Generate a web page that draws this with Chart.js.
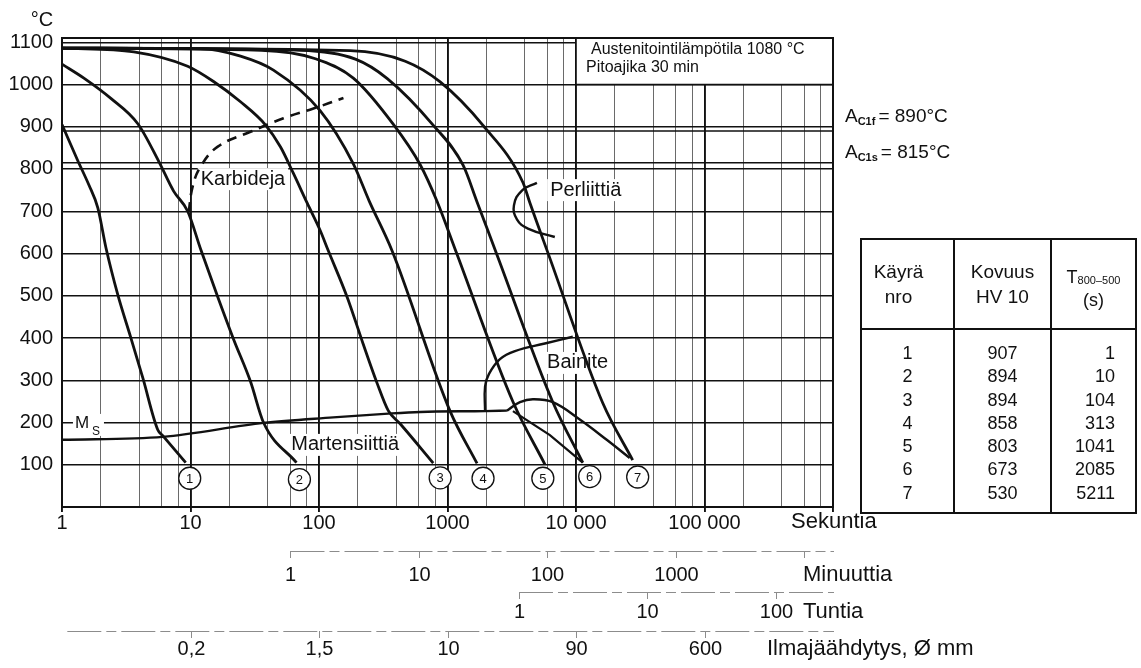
<!DOCTYPE html>
<html>
<head>
<meta charset="utf-8">
<script src="https://cdn.jsdelivr.net/npm/chart.js@4.4.1/dist/chart.umd.min.js"></script>
<style>
  html, body { margin: 0; padding: 0; background: #fff; }
  #wrap { position: relative; width: 1141px; height: 668px; overflow: hidden; }
  #cct { position: absolute; left: 0; top: 0; }
  table.hv {
    position: absolute; left: 860px; top: 238px; width: 275px;
    border-collapse: collapse; table-layout: fixed;
    font-family: "Liberation Sans", Arial, Helvetica, sans-serif; color: #111;
  }
  table.hv td { border: 2px solid #111; padding: 0; }
  table.hv tr.head td { height: 78px; font-size: 19px; line-height: 25px; vertical-align: middle; text-align: center; }
  table.hv tr.head td.c1 { padding-right: 18px; }
  table.hv tr.head td.c3 { font-size: 18px; line-height: 21px; padding-top: 10px; }
  table.hv sub { font-size: 11px; vertical-align: baseline; position: relative; top: 1px; }
  table.hv tr.body td { height: 170px; font-size: 18px; line-height: 23.3px; vertical-align: top; padding-top: 12px; text-align: center; }
  table.hv tr.body td.c3 { text-align: right; padding-right: 20px; }
</style>
</head>
<body>
<div id="wrap">
  <canvas id="cct" width="1141" height="668"></canvas>
  <table class="hv" id="hvTable">
    <colgroup><col style="width:93px"><col style="width:97px"><col style="width:85px"></colgroup>
    <tr class="head">
      <td class="c1">Käyrä<br>nro</td>
      <td class="c2">Kovuus<br>HV 10</td>
      <td class="c3">T<sub>800–500</sub><br>(s)</td>
    </tr>
    <tr class="body"><td class="c1" id="colNo"></td><td class="c2" id="colHv"></td><td class="c3" id="colT"></td></tr>
  </table>
</div>
<script>
const FONT = '"Liberation Sans", Arial, Helvetica, sans-serif';

// time axis (s) and temperature axis (°C)
const secTicks = [1, 10, 100, 1000, 10000, 100000];
const secLabels = ['1', '10', '100', '1000', '10 000', '100 000'];
const minTicks = [1, 10, 100, 1000, 10000];
const minLabels = ['1', '10', '100', '1000', ''];
const hourTicks = [1, 10, 100];
const hourLabels = ['1', '10', '100'];
const airTicksSec = [10, 100, 1000, 10000, 100000];
const airLabels = ['0,2', '1,5', '10', '90', '600'];
const tempTicks = [0, 100, 200, 300, 400, 500, 600, 700, 800, 900, 1000, 1100];

// cooling curves 1..7
const curve1Time = [1, 1.33, 1.62, 1.90, 2.20, 2.72, 3.43, 4.25, 5.56, 6.08, 9.18];
const curve1Temp = [905, 819, 762, 708, 613, 502, 401, 306, 183, 169, 105];
const curve2Time = [1, 1.48, 2.40, 3.89, 5.66, 7.41, 9.51, 12.0, 16.3, 21.7, 29.3, 37.0, 66.8];
const curve2Temp = [1048, 1015, 967, 907, 818, 747, 700, 610, 497, 396, 297, 200, 105];
const curve3Time = [1, 3.62, 9.5, 15.1, 24.5, 38.4, 50.2, 63.1, 81, 102, 118, 166, 220, 284, 346, 428, 774];
const curve3Temp = [1086, 1077, 1043, 1007, 959, 904, 852, 790, 719, 655, 607, 496, 387, 292, 228, 197, 104];
const curve4Time = [1, 12.0, 24.5, 44.2, 102, 185, 246, 371, 1047, 1698];
const curve4Temp = [1086, 1085, 1067, 1034, 938, 812, 724, 606, 227, 103];
const curve5Time = [1, 35.7, 93.8, 185, 378, 613, 830, 1166, 3230, 5725];
const curve5Temp = [1086, 1081, 1061, 1015, 906, 810, 723, 604, 249, 101];
const curve6Time = [1, 71.7, 192, 340, 773, 1322, 1698, 2385, 6605, 11290];
const curve6Temp = [1086, 1081, 1060, 1014, 904, 809, 722, 603, 248, 105];
const curve7Time = [1, 175, 469, 877, 1890, 3865, 4375, 6040, 16150, 27600];
const curve7Temp = [1086, 1080, 1055, 1006, 903, 768, 720, 602, 246, 111];

// transformation lines
const msTime = [1, 6.1, 37, 129, 346, 613, 1960, 2900];
const msTemp = [159, 166, 199, 212, 221, 225, 227, 228];
const bainiteTime = [1960, 1960, 2104, 2560, 3350, 5725, 9440];
const bainiteTemp = [227, 285, 315, 350, 369, 387, 403];
const bainiteHumpTime = [2900, 3664, 4620, 6605, 10700, 17340, 26170];
const bainiteHumpTemp = [228, 248, 255, 248, 207, 159, 116];
const bainiteLowTime = [3230, 6265, 11290];
const bainiteLowTemp = [227, 170, 105];
const carbideTime = [9.68, 10.4, 12.0, 16.3, 29.3, 52.9, 90.5, 155];
const carbideTemp = [698, 759, 806, 853, 888, 920, 943, 968];
const perliteTime = [4965, 3795, 3290, 3470, 4225, 6840];
const perliteTemp = [767, 749, 714, 681, 659, 639];

const acValues = [890, 815];
const acNames = ['C1f', 'C1s'];
const acLabelTemp = [923, 839];

// curve number markers
const markerNo = ['1', '2', '3', '4', '5', '6', '7'];
const markerTime = [9.86, 70.4, 877, 1890, 5520, 12790, 30200];
const markerTemp = [68, 65, 69, 68, 68, 72, 71];

// table
const curveNo = [1, 2, 3, 4, 5, 6, 7];
const hardness = [907, 894, 894, 858, 803, 673, 530];
const t800500 = [1, 10, 104, 313, 1041, 2085, 5211];

const regionLabels = [
  { text: 'Karbideja', t: 25.6, T: 776 },
  { text: 'Perliittiä', t: 11900, T: 750 },
  { text: 'Bainite', t: 10300, T: 341 },
  { text: 'Martensiittiä', t: 160, T: 147 }
];

document.getElementById('colNo').innerHTML = curveNo.join('<br>');
document.getElementById('colHv').innerHTML = hardness.join('<br>');
document.getElementById('colT').innerHTML = t800500.join('<br>');

function pts(ts, Ts) {
  return ts.map((t, i) => ({ x: t, y: Ts[i] }));
}

// vertical grid: 1, 2, 4, 6, 8 per decade
const gridTimes = [];
secTicks.forEach(d => { gridTimes.push(d, 2 * d, 4 * d, 6 * d, 8 * d); });
gridTimes.push(1000000);

function isMajor(v) {
  return secTicks.includes(v) || v === 1000000;
}

function curveSet(ts, Ts) {
  return { data: pts(ts, Ts), borderColor: '#111', borderWidth: 2.8, pointRadius: 0, cubicInterpolationMode: 'monotone', fill: false };
}

function drawSubAxis(ctx, x, a, startSec, tickSecs, labels, lineY, labelY, name, nameX) {
  ctx.save();
  ctx.strokeStyle = '#8c8c8c';
  ctx.lineWidth = 1;
  ctx.setLineDash([34, 5, 10, 5]);
  ctx.beginPath();
  ctx.moveTo(x.getPixelForValue(startSec), lineY + 0.5);
  ctx.lineTo(a.right + 1, lineY + 0.5);
  ctx.stroke();
  ctx.setLineDash([]);
  ctx.fillStyle = '#111';
  ctx.font = '20px ' + FONT;
  ctx.textAlign = 'center';
  ctx.textBaseline = 'middle';
  tickSecs.forEach((s, i) => {
    const px = Math.round(x.getPixelForValue(s)) + 0.5;
    ctx.beginPath();
    ctx.moveTo(px, lineY);
    ctx.lineTo(px, lineY + 7);
    ctx.stroke();
    if (labels[i]) ctx.fillText(labels[i], px, labelY);
  });
  if (name) {
    ctx.font = '22px ' + FONT;
    ctx.textAlign = 'left';
    ctx.fillText(name, nameX, labelY);
  }
  ctx.restore();
}

const cctPlugin = {
  id: 'cct',
  beforeDraw(chart) {
    const ctx = chart.ctx;
    ctx.save();
    ctx.fillStyle = '#fff';
    ctx.fillRect(0, 0, chart.width, chart.height);
    ctx.restore();
  },
  beforeDatasetsDraw(chart) {
    const { ctx, chartArea: a, scales: { x, y } } = chart;
    ctx.save();
    // austenitizing info box
    const bx = x.getPixelForValue(10000), by = y.getPixelForValue(1000);
    ctx.fillStyle = '#fff';
    ctx.fillRect(bx, a.top, a.right - bx, by - a.top);
    ctx.strokeStyle = '#111';
    ctx.lineWidth = 1.6;
    ctx.beginPath();
    ctx.moveTo(bx, a.top);
    ctx.lineTo(bx, by);
    ctx.lineTo(a.right, by);
    ctx.stroke();
    ctx.fillStyle = '#111';
    ctx.font = '16px ' + FONT;
    ctx.textAlign = 'left';
    ctx.textBaseline = 'middle';
    ctx.fillText('Austenitointilämpötila 1080 °C', bx + 15, a.top + 12);
    ctx.fillText('Pitoajika 30 min', bx + 10, a.top + 30);

    // region labels
    ctx.font = '20px ' + FONT;
    ctx.textAlign = 'center';
    regionLabels.forEach(l => {
      const px = x.getPixelForValue(l.t), py = y.getPixelForValue(l.T);
      const w = ctx.measureText(l.text).width;
      ctx.fillStyle = '#fff';
      ctx.fillRect(px - w / 2 - 3, py - 11, w + 6, 22);
      ctx.fillStyle = '#111';
      ctx.fillText(l.text, px, py);
    });

    // Ms label
    const mx = x.getPixelForValue(1.43), my = y.getPixelForValue(199);
    ctx.fillStyle = '#fff';
    ctx.fillRect(mx - 9, my - 9, 31, 22);
    ctx.fillStyle = '#111';
    ctx.font = '17px ' + FONT;
    ctx.fillText('M', mx, my);
    ctx.font = '12px ' + FONT;
    ctx.fillText('S', mx + 14, my + 9);
    ctx.restore();
  },
  afterDatasetsDraw(chart) {
    const { ctx, chartArea: a } = chart;
    ctx.save();
    const meta = chart.getDatasetMeta(0);
    ctx.fillStyle = '#111';
    ctx.font = '13px ' + FONT;
    ctx.textAlign = 'center';
    ctx.textBaseline = 'middle';
    meta.data.forEach((p, i) => ctx.fillText(markerNo[i], p.x, p.y + 1));
    // plot frame
    ctx.strokeStyle = '#111';
    ctx.lineWidth = 2;
    ctx.strokeRect(a.left, a.top, a.right - a.left, a.bottom - a.top);
    ctx.restore();
  },
  afterDraw(chart) {
    const { ctx, chartArea: a, scales: { x, y } } = chart;
    ctx.save();
    ctx.fillStyle = '#111';
    ctx.textBaseline = 'middle';
    ctx.textAlign = 'center';
    ctx.font = '20px ' + FONT;
    ctx.fillText('°C', 42, 20);

    // Ac temperatures
    acValues.forEach((v, i) => {
      let px = a.right + 12;
      const py = y.getPixelForValue(acLabelTemp[i]);
      ctx.textAlign = 'left';
      ctx.font = '19px ' + FONT;
      ctx.fillText('A', px, py);
      px += ctx.measureText('A').width;
      ctx.font = 'bold 11px ' + FONT;
      ctx.fillText(acNames[i], px, py + 5);
      px += ctx.measureText(acNames[i]).width + 3;
      ctx.font = '19px ' + FONT;
      ctx.fillText('= ' + v + '°C', px, py);
    });
    ctx.restore();

    // time scales below
    drawSubAxis(ctx, x, a, 1, [], [], -100, 522, 'Sekuntia', a.right - 42);
    drawSubAxis(ctx, x, a, 60, minTicks.map(m => m * 60), minLabels, 551, 575, 'Minuuttia', a.right - 30);
    drawSubAxis(ctx, x, a, 3600, hourTicks.map(h => h * 3600), hourLabels, 592, 612, 'Tuntia', a.right - 30);
    drawSubAxis(ctx, x, a, 1.1, airTicksSec, airLabels, 631, 649, 'Ilmajäähdytys, Ø mm', a.right - 66);
  }
};

const ctx = document.getElementById('cct').getContext('2d');
new Chart(ctx, {
  type: 'line',
  data: {
    datasets: [
      { data: pts(markerTime, markerTemp), showLine: false, pointRadius: 11, pointBackgroundColor: '#fff', pointBorderColor: '#111', pointBorderWidth: 1.3 },
      curveSet(curve1Time, curve1Temp),
      curveSet(curve2Time, curve2Temp),
      curveSet(curve3Time, curve3Temp),
      curveSet(curve4Time, curve4Temp),
      curveSet(curve5Time, curve5Temp),
      curveSet(curve6Time, curve6Temp),
      curveSet(curve7Time, curve7Temp),
      { data: pts(msTime, msTemp), borderColor: '#111', borderWidth: 2.4, pointRadius: 0, cubicInterpolationMode: 'monotone' },
      { data: pts(bainiteTime, bainiteTemp), borderColor: '#111', borderWidth: 2.4, pointRadius: 0, tension: 0.4 },
      { data: pts(bainiteHumpTime, bainiteHumpTemp), borderColor: '#111', borderWidth: 2.4, pointRadius: 0, tension: 0.4 },
      { data: pts(bainiteLowTime, bainiteLowTemp), borderColor: '#111', borderWidth: 2.2, pointRadius: 0 },
      { data: pts(carbideTime, carbideTemp), borderColor: '#111', borderWidth: 2.6, borderDash: [10, 7], pointRadius: 0, tension: 0.4 },
      { data: pts(perliteTime, perliteTemp), borderColor: '#111', borderWidth: 2.4, pointRadius: 0, tension: 0.45 },
      { data: pts([1, 1000000], [acValues[0], acValues[0]]), borderColor: '#111', borderWidth: 1.5, pointRadius: 0 },
      { data: pts([1, 1000000], [acValues[1], acValues[1]]), borderColor: '#111', borderWidth: 1.5, pointRadius: 0 }
    ]
  },
  options: {
    responsive: false,
    animation: false,
    events: [],
    layout: { padding: { left: 0, top: 38, right: 308, bottom: 131 } },
    plugins: { legend: { display: false }, tooltip: { enabled: false } },
    scales: {
      x: {
        type: 'logarithmic',
        min: 1,
        max: 1000000,
        afterBuildTicks: s => { s.ticks = gridTimes.map(v => ({ value: v })); },
        afterFit: s => { s.height = 30; },
        ticks: {
          autoSkip: false,
          maxRotation: 0,
          padding: 1,
          color: '#111',
          font: { family: FONT, size: 20, lineHeight: 1 },
          callback: v => {
            const i = secTicks.indexOf(v);
            return i >= 0 ? secLabels[i] : '';
          }
        },
        grid: {
          color: c => (c.tick && isMajor(c.tick.value)) ? '#111' : '#6a6a6a',
          lineWidth: c => (c.tick && isMajor(c.tick.value)) ? 1.9 : 1,
          tickLength: 5,
          tickColor: c => (c.tick && isMajor(c.tick.value)) ? '#111' : 'rgba(0,0,0,0)'
        },
        border: { color: '#111', width: 2 }
      },
      y: {
        min: 0,
        max: 1110,
        afterBuildTicks: s => { s.ticks = tempTicks.map(v => ({ value: v })); },
        afterFit: s => { s.width = 62; },
        ticks: {
          padding: 9,
          color: '#111',
          font: { family: FONT, size: 20 },
          callback: v => v === 0 ? '' : String(v)
        },
        grid: { color: '#111', lineWidth: 1.4, drawTicks: false },
        border: { color: '#111', width: 2 }
      }
    }
  },
  plugins: [cctPlugin]
});
</script>
</body>
</html>
